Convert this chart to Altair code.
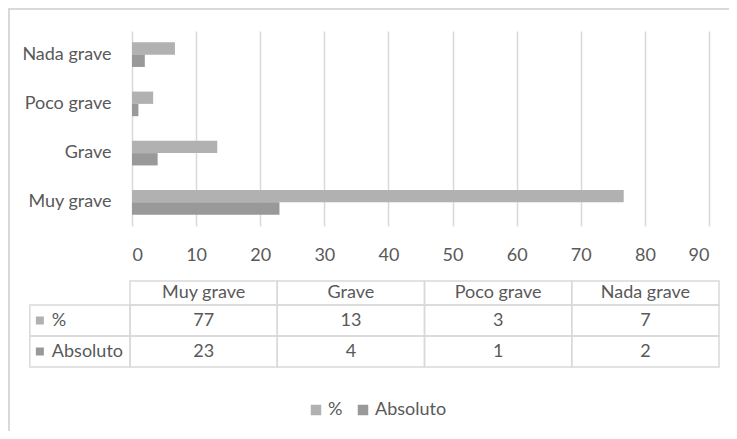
import altair as alt
import pandas as pd

# ---------------- data ----------------
categories = ["Muy grave", "Grave", "Poco grave", "Nada grave"]
series = ["%", "Absoluto"]
pct_values = [76.7, 13.3, 3.3, 6.7]
abs_values = [23, 4, 1, 2]
pct_table = [77, 13, 3, 7]
abs_table = [23, 4, 1, 2]
x_ticks = [0, 10, 20, 30, 40, 50, 60, 70, 80, 90]

# ---------------- style / layout ----------------
FONT = "Lato"
FS = 18
TEXT = "#595959"
GRID = "#d9d9d9"
COLORS = {"%": "#b1b1b1", "Absoluto": "#999999"}
PLOT_W, PLOT_H = 577, 195
TABLE_X_RANGE = [-2, 587]      # table columns 0..4
LABEL_COL = -0.68              # left edge of the row-label column (table units)
ROW_EDGES = [0, 24, 55, 86]    # header, %, Absoluto
TABLE_Y_RANGE = [250, 336]

bars_df = pd.DataFrame(
    [{"cat": c, "serie": s, "valor": v}
     for s, vals in zip(series, [pct_values, abs_values])
     for c, v in zip(categories, vals)]
)

cells = []
for i, c in enumerate(categories):
    cells.append({"x0": i, "x1": i + 1, "y0": ROW_EDGES[0], "y1": ROW_EDGES[1], "txt": c, "kind": "cell"})
for r, (s, vals) in enumerate(zip(series, [pct_table, abs_table])):
    y0, y1 = ROW_EDGES[r + 1], ROW_EDGES[r + 2]
    cells.append({"x0": LABEL_COL, "x1": 0, "y0": y0, "y1": y1, "txt": s, "kind": "label",
                  "key": COLORS[s]})
    for i, v in enumerate(vals):
        cells.append({"x0": i, "x1": i + 1, "y0": y0, "y1": y1, "txt": str(v), "kind": "cell"})
cells_df = pd.DataFrame(cells)
cells_df["xm"] = (cells_df["x0"] + cells_df["x1"]) / 2
cells_df["ym"] = (cells_df["y0"] + cells_df["y1"]) / 2

# ---------------- bars ----------------
bars = alt.Chart(bars_df).mark_bar().encode(
    x=alt.X("valor:Q",
            scale=alt.Scale(domain=[0, 90], nice=False),
            axis=alt.Axis(values=x_ticks, title=None, domain=False, ticks=False,
                          grid=True, gridColor=GRID, gridWidth=1.5,
                          labelFontSize=FS, labelColor=TEXT, labelFont=FONT,
                          labelPadding=20)),
    y=alt.Y("cat:N", sort=list(reversed(categories)),
            scale=alt.Scale(paddingInner=0.5, paddingOuter=0.23),
            axis=alt.Axis(title=None, domain=False, ticks=False,
                          labelFontSize=FS, labelColor=TEXT, labelFont=FONT,
                          labelPadding=21, labelLimit=300)),
    yOffset=alt.YOffset("serie:N", sort=series, scale=alt.Scale(paddingInner=0, paddingOuter=0)),
    color=alt.Color("serie:N", sort=series,
                    scale=alt.Scale(domain=series, range=[COLORS[s] for s in series]),
                    legend=alt.Legend(orient="none", legendX=175, legendY=370,
                                      direction="horizontal", title=None,
                                      symbolType="square", symbolSize=110,
                                      symbolStrokeWidth=0, labelFontSize=FS,
                                      labelColor=TEXT, labelFont=FONT,
                                      labelOffset=3, columnPadding=11, padding=0)),
)

# ---------------- table ----------------
tx = alt.Scale(domain=[0, 4], range=TABLE_X_RANGE, nice=False, zero=False)
ty = alt.Scale(domain=[0, 86], range=TABLE_Y_RANGE, nice=False, zero=False)
tbase = alt.Chart(cells_df)

t_rect = tbase.mark_rect(fill="transparent", stroke=GRID, strokeWidth=1.5).encode(
    x=alt.X("x0:Q", scale=tx, axis=None), x2="x1:Q",
    y=alt.Y("y0:Q", scale=ty, axis=None), y2="y1:Q",
)
t_text = tbase.transform_filter(alt.datum.kind == "cell").mark_text(
    fontSize=FS, color=TEXT, font=FONT, align="center", baseline="middle"
).encode(
    x=alt.X("xm:Q", scale=tx, axis=None),
    y=alt.Y("ym:Q", scale=ty, axis=None),
    text="txt:N",
)
t_label = tbase.transform_filter(alt.datum.kind == "label").mark_text(
    fontSize=FS, color=TEXT, font=FONT, align="left", baseline="middle", xOffset=22
).encode(
    x=alt.X("x0:Q", scale=tx, axis=None),
    y=alt.Y("ym:Q", scale=ty, axis=None),
    text="txt:N",
)
t_key = tbase.transform_filter(alt.datum.kind == "label").mark_square(
    size=64, opacity=1, xOffset=10
).encode(
    x=alt.X("x0:Q", scale=tx, axis=None),
    y=alt.Y("ym:Q", scale=ty, axis=None),
    fill=alt.Fill("key:N", scale=None),
)
table = alt.layer(t_rect, t_text, t_label, t_key)

# ---------------- chart-area border (top & left) ----------------
border_top = alt.Chart(bars_df).mark_rule(stroke=GRID, strokeWidth=1.5).encode(
    x=alt.value(-124), x2=alt.value(700), y=alt.value(-22.2)
)
border_left = alt.Chart(bars_df).mark_rule(stroke=GRID, strokeWidth=1.5).encode(
    x=alt.value(-123.2), y=alt.value(-23), y2=alt.value(420)
)

chart = alt.layer(border_top, border_left, bars, table).resolve_scale(
    x="independent", y="independent"
).properties(
    width=PLOT_W, height=PLOT_H,
    autosize=alt.AutoSizeParams(type="none"),
    padding={"left": 124, "top": 23, "right": 20, "bottom": 205},
).configure(font=FONT).configure_view(stroke=None)

chart.save("out.html", embed_options={"renderer": "svg", "actions": False})
